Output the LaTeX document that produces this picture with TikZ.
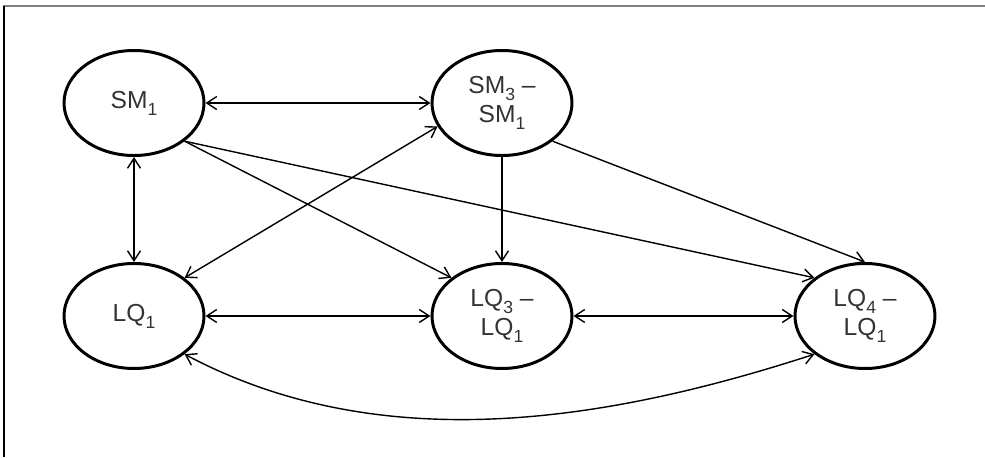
\documentclass[tikz,border=0pt]{standalone}
\usepackage{fontspec}
\setmainfont{Liberation Sans}
\usetikzlibrary{
  arrows.meta,
  positioning,
  shapes.geometric,
}
\newcommand{\lowsub}[1]{\raisebox{-0.55ex}{\fontsize{10}{12}\selectfont#1}}

\begin{document}
\begin{tikzpicture}[
    node distance=2.1cm and 4.5cm,
    n/.style={
      draw, ellipse, line width=1.7pt, minimum width=2.8cm,
      minimum height=2.1cm, inner sep=0pt, align=center,
      font=\fontsize{14}{16.5}\selectfont, text=black!80,
    },
    a/.style={line width=0.8pt,
      >={Straight Barb[length=2mm,width=2.6mm]}},]
  \useasboundingbox (0,0) rectangle (19.7,9.14);
  \draw[black!50, line width=1.2pt] (0.06,9.02) -- (19.7,9.02);
  \draw[line width=0.9pt] (0.08,9.02) -- (0.08,0);
  %%
  \node[n] (SM1) at (2.68,7.08) {SM\lowsub{1}};
  \node[n,right=of SM1] (SM3) {SM\lowsub{3} –\\SM\lowsub{1}};
  \node[n,below=of SM1] (LQ1) {LQ\lowsub{1}};
  \node[n,below=of SM3] (LQ3) {LQ\lowsub{3} –\\LQ\lowsub{1}};
  \node[n,right=4.4cm of LQ3] (LQ4) {LQ\lowsub{4} –\\LQ\lowsub{1}};
  %%
  \draw[<->,a] (SM1) -- (SM3);
  \draw[<->,a] (SM1) -- (LQ1);
  \draw[->,a] (SM1.south east) -- (LQ3.north west);
  \draw[->,a] (SM1.south east) -- (LQ4.north west);
  \draw[<->,a] (LQ1.north east) -- (SM3.-160);
  \draw[->,a] (SM3) -- (LQ3);
  \draw[->,a] (SM3.south east) -- (LQ4.north);
  %%
  \draw[<->,a] (LQ1) -- (LQ3);
  \draw[<->,a] (LQ3) -- (LQ4);
  \draw[<->,a] (LQ1.south east) to[out=-28,in=-162,looseness=0.9]
  (LQ4.south west);
\end{tikzpicture}
\end{document}
